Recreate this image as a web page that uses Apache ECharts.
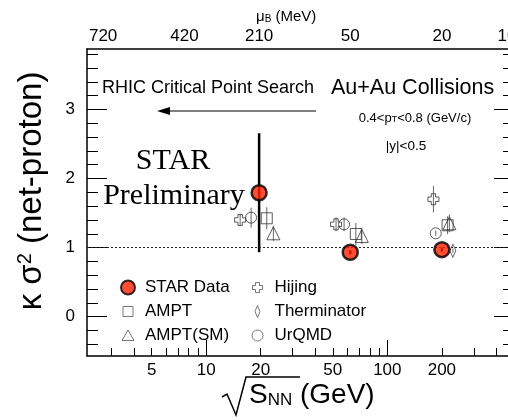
<!DOCTYPE html>
<html><head><meta charset="utf-8">
<script src="https://cdn.jsdelivr.net/npm/echarts@6/dist/echarts.min.js"></script>
<style>html,body{margin:0;padding:0;background:#fff}#c{width:508px;height:420px}</style>
</head><body><div id="c"></div>
<script>
// ---- data (sqrt(s_NN) in GeV, kappa*sigma^2, error) ----
const starEnergy = [19.6, 62.4, 200];
const starK = [1.794, 0.932, 0.970];
const starErr = [0.861, 0.03, 0.03];

const amptEnergy = [21.6, 67, 215];
const amptK = [1.424, 1.197, 1.323];
const amptErr = [0.16, 0.16, 0.13];

const amptSmEnergy = [23.5, 72.3, 220];
const amptSmK = [1.207, 1.168, 1.352];
const amptSmErr = [0.11, 0.12, 0.13];

const hijingEnergy = [15.4, 52.1, 179.6];
const hijingK = [1.40, 1.337, 1.70];
const hijingErr = [0.085, 0.10, 0.19];

const thermEnergy = [230];
const thermK = [0.955];
const thermErr = [0.03];

const urqmdEnergy = [17.7, 57.7, 185];
const urqmdK = [1.433, 1.337, 1.207];
const urqmdErr = [0.145, 0.10, 0.04];

// ---- axes ----
const xLabelValues = [5, 10, 20, 50, 100, 200];
const xMinorTicks = [3, 4, 5, 6, 7, 8, 9, 20, 30, 40, 50, 60, 70, 80, 90, 200, 300, 400];
const xMajorTicks = [10, 100];
const muBPositions = [2.7, 7.6, 19.6, 62.4, 200, 457];
const muBLabels = ['720', '420', '210', '50', '20', '10'];
const yLabelValues = [0, 1, 2, 3];
const yMinorTicks = [-0.4, -0.2, 0.2, 0.4, 0.6, 0.8, 1.2, 1.4, 1.6, 1.8, 2.2, 2.4, 2.6, 2.8, 3.2, 3.4, 3.6, 3.8];
const X_MIN = 2.2, X_MAX = 500, Y_MIN = -0.569, Y_MAX = 3.874;

const FONT = 'Liberation Sans, Arial, Helvetica, sans-serif';
const SERIF = 'Liberation Serif, Times New Roman, serif';

function pts(xs, ys) { return xs.map((x, i) => [x, ys[i]]); }
function bars(xs, ys, es) { return xs.map((x, i) => [x, ys[i] - es[i], ys[i] + es[i]]); }

const chart = echarts.init(document.getElementById('c'), null, { renderer: 'canvas' });

function xAxisBase(extra) {
  return Object.assign({
    type: 'log', logBase: 10, min: X_MIN, max: X_MAX, gridIndex: 0,
    splitLine: { show: false }, axisLine: { show: false, onZero: false }, axisTick: { show: false }, axisLabel: { show: false }
  }, extra);
}
function yAxisBase(extra) {
  return Object.assign({
    type: 'value', min: Y_MIN, max: Y_MAX, gridIndex: 0,
    splitLine: { show: false }, axisLine: { show: false, onZero: false }, axisTick: { show: false }, axisLabel: { show: false }
  }, extra);
}

function errRender(color, width) {
  return function (params, api) {
    const x = api.value(0);
    const p1 = api.coord([x, api.value(1)]);
    const p2 = api.coord([x, api.value(2)]);
    return { type: 'line', shape: { x1: p1[0], y1: p1[1], x2: p2[0], y2: p2[1] }, style: { stroke: color, lineWidth: width } };
  };
}

const openStyle = { color: 'transparent', borderColor: '#333', borderWidth: 1 };
const legendOpen = { color: 'transparent', borderColor: '#555', borderWidth: 1 };
const lineX = { show: true, onZero: false, lineStyle: { color: '#000', width: 1.5 } };
const tickStyle = { color: '#000', width: 1 };

const option = {
  animation: false,
  backgroundColor: '#fff',
  grid: { left: 87, top: 49, right: -6, bottom: 64, containLabel: false, outerBoundsMode: 'none' },
  xAxis: [
    xAxisBase({
      position: 'bottom',
      axisLine: lineX,
      axisTick: { show: true, inside: true, length: 8, customValues: xMinorTicks, lineStyle: tickStyle },
      axisLabel: { show: true, customValues: xLabelValues, color: '#000', fontSize: 17, fontFamily: FONT, margin: 6,
        formatter: v => String(Math.round(v)) }
    }),
    xAxisBase({
      position: 'bottom',
      axisTick: { show: true, inside: true, length: 16, customValues: xMajorTicks, lineStyle: tickStyle }
    }),
    xAxisBase({
      position: 'top',
      axisLine: lineX,
      axisLabel: { show: true, customValues: muBPositions, color: '#000', fontSize: 17, fontFamily: FONT, margin: 4,
        formatter: v => { const i = muBPositions.findIndex(p => Math.abs(p - v) < 1e-3 * p); return i >= 0 ? muBLabels[i] : ''; } }
    })
  ],
  yAxis: [
    yAxisBase({
      position: 'left',
      axisLine: lineX,
      axisTick: { show: true, inside: true, length: 20, customValues: yLabelValues, lineStyle: tickStyle },
      axisLabel: { show: true, customValues: yLabelValues, color: '#000', fontSize: 17, fontFamily: FONT, margin: 12 }
    }),
    yAxisBase({
      position: 'left',
      axisTick: { show: true, inside: true, length: 11, customValues: yMinorTicks, lineStyle: tickStyle }
    }),
    yAxisBase({
      position: 'right',
      axisLine: lineX,
      axisTick: { show: true, inside: true, length: 20, customValues: yLabelValues, lineStyle: tickStyle }
    }),
    yAxisBase({
      position: 'right',
      axisTick: { show: true, inside: true, length: 11, customValues: yMinorTicks, lineStyle: tickStyle }
    })
  ],
  legend: [
    {
      orient: 'vertical', left: 115, top: 274, itemWidth: 24, itemHeight: 14, itemGap: 7,
      textStyle: { fontSize: 17, lineHeight: 17, fontFamily: FONT, color: '#000' },
      data: [
        { name: 'STAR Data', icon: 'circle' },
        { name: 'AMPT', icon: 'path://M0,0M14,14M2,2H12V12H2Z', itemStyle: legendOpen },
        { name: 'AMPT(SM)', icon: 'path://M0,0M14,14M7,1.5L13,12H1Z', itemStyle: legendOpen }
      ]
    },
    {
      orient: 'vertical', left: 245, top: 274, itemWidth: 24, itemHeight: 14, itemGap: 7,
      textStyle: { fontSize: 17, lineHeight: 17, fontFamily: FONT, color: '#000' },
      data: [
        { name: 'Hijing', icon: 'path://M0,0M14,14M5,2H9V5H12V9H9V12H5V9H2V5H5Z', itemStyle: legendOpen },
        { name: 'Therminator', icon: 'path://M0,0M14,14M7,1L9.5,7L7,13L4.5,7Z', itemStyle: legendOpen },
        { name: 'UrQMD', icon: 'path://M0,0M14,14M12.5,7A5.5,5.5,0,1,1,1.5,7A5.5,5.5,0,1,1,12.5,7Z', itemStyle: legendOpen }
      ]
    }
  ],
  series: [
    {
      type: 'custom', name: 'errors', xAxisIndex: 0, yAxisIndex: 0, renderItem: errRender('#666', 1),
      encode: { x: 0, y: [1, 2] }, z: 2, silent: true,
      data: [].concat(bars(amptEnergy, amptK, amptErr), bars(amptSmEnergy, amptSmK, amptSmErr),
        bars(hijingEnergy, hijingK, hijingErr), bars(thermEnergy, thermK, thermErr), bars(urqmdEnergy, urqmdK, urqmdErr)),
      markLine: {
        silent: true, symbol: ['none', 'none'], label: { show: false },
        lineStyle: { color: '#222', type: [2, 2], width: 1.2 },
        data: [{ yAxis: 1 }]
      }
    },
    {
      type: 'custom', name: 'starErr', xAxisIndex: 0, yAxisIndex: 0, renderItem: errRender('#000', 2.5),
      encode: { x: 0, y: [1, 2] }, z: 3, silent: true,
      data: bars(starEnergy, starK, starErr)
    },
    { type: 'scatter', name: 'AMPT', symbol: 'rect', symbolSize: 11, itemStyle: openStyle, z: 4, data: pts(amptEnergy, amptK) },
    { type: 'scatter', name: 'AMPT(SM)', symbol: 'triangle', symbolSize: 13, itemStyle: openStyle, z: 4, data: pts(amptSmEnergy, amptSmK) },
    { type: 'scatter', name: 'Hijing', symbol: 'path://M3,0H7V3H10V7H7V10H3V7H0V3H3Z', symbolSize: 11, itemStyle: openStyle, z: 4, data: pts(hijingEnergy, hijingK) },
    { type: 'scatter', name: 'Therminator', symbol: 'path://M3,0L6,6L3,12L0,6Z', symbolSize: [6, 13], itemStyle: openStyle, z: 4, data: pts(thermEnergy, thermK) },
    { type: 'scatter', name: 'UrQMD', symbol: 'circle', symbolSize: 11, itemStyle: openStyle, z: 4, data: pts(urqmdEnergy, urqmdK) },
    { type: 'scatter', name: 'STAR Data', symbol: 'circle', symbolSize: 15, itemStyle: { color: '#ff2200', borderColor: '#000', borderWidth: 2.5 }, z: 10, data: pts(starEnergy, starK) }
  ],
  graphic: [
    { type: 'text', x: 32, y: 191, rotation: Math.PI / 2, z: 10,
      style: { text: '{a|κ σ}{s|2}{a| (net-proton)}', align: 'center', verticalAlign: 'middle',
        rich: { a: { fontSize: 33, fontFamily: FONT, fill: '#000' }, s: { fontSize: 20, fontFamily: FONT, fill: '#000', verticalAlign: 'top' } } } },
    { type: 'polyline', z: 10, shape: { points: [[222, 397], [227, 394], [236, 415], [246, 377], [300, 377]] }, style: { stroke: '#000', lineWidth: 1.5, fill: null } },
    { type: 'text', x: 249, y: 395, z: 10,
      style: { text: '{a|S}{b|NN}{a| (GeV)}', align: 'left', verticalAlign: 'middle',
        rich: { a: { fontSize: 28, fontFamily: FONT, fill: '#000' }, b: { fontSize: 17, fontFamily: FONT, fill: '#000', verticalAlign: 'bottom' } } } },
    { type: 'text', x: 256, y: 17, z: 10,
      style: { text: '{a|μ}{b|B}{a| (MeV)}', align: 'left', verticalAlign: 'middle',
        rich: { a: { fontSize: 15, fontFamily: FONT, fill: '#000' }, b: { fontSize: 10, fontFamily: FONT, fill: '#000', verticalAlign: 'bottom' } } } },
    { type: 'text', x: 102, y: 88, z: 10, style: { text: 'RHIC Critical Point Search', fontSize: 18, fontFamily: FONT, fill: '#000', align: 'left', verticalAlign: 'middle' } },
    { type: 'text', x: 331, y: 88, z: 10, style: { text: 'Au+Au Collisions', fontSize: 21.5, fontFamily: FONT, fill: '#000', align: 'left', verticalAlign: 'middle' } },
    { type: 'line', z: 10, shape: { x1: 316, y1: 111, x2: 166, y2: 111 }, style: { stroke: '#000', lineWidth: 1 } },
    { type: 'polygon', z: 10, shape: { points: [[157, 111], [170, 107], [170, 115]] }, style: { fill: '#000' } },
    { type: 'text', x: 415, y: 118, z: 10,
      style: { text: '{a|0.4<p}{b|T}{a|<0.8 (GeV/c)}', align: 'center', verticalAlign: 'middle',
        rich: { a: { fontSize: 13, fontFamily: FONT, fill: '#000' }, b: { fontSize: 9, fontFamily: FONT, fill: '#000', verticalAlign: 'bottom' } } } },
    { type: 'text', x: 406, y: 146, z: 10, style: { text: '|y|<0.5', fontSize: 13.5, fontFamily: FONT, fill: '#000', align: 'center', verticalAlign: 'middle' } },
    { type: 'text', x: 173, y: 161, z: 1, style: { text: 'STAR', fontSize: 30, fontFamily: SERIF, fill: '#000', align: 'center', verticalAlign: 'middle' } },
    { type: 'text', x: 174, y: 196, z: 1, style: { text: 'Preliminary', fontSize: 30, fontFamily: SERIF, fill: '#000', align: 'center', verticalAlign: 'middle' } }
  ]
};
chart.setOption(option);
</script>
</body></html>
